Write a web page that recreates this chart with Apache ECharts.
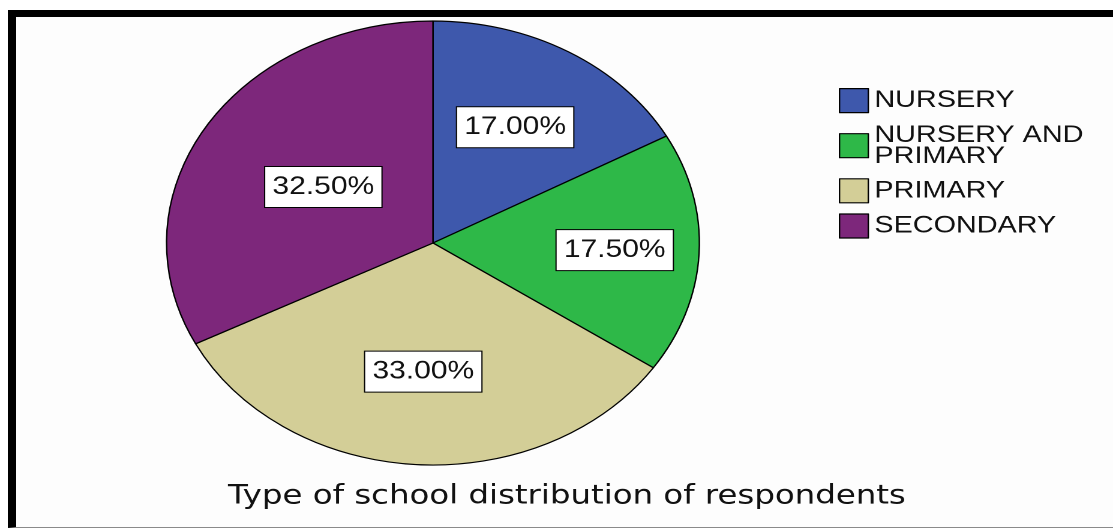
<!DOCTYPE html>
<html><head><meta charset="utf-8">
<script src="https://cdn.jsdelivr.net/npm/echarts@6/dist/echarts.min.js"></script>
<style>
html,body{margin:0;padding:0;background:#fff;overflow:hidden;}
#frame{position:absolute;left:8px;top:10px;width:1105px;height:518px;box-sizing:border-box;border-top:7px solid #000;border-left:8px solid #000;border-bottom:1px solid #8a8a8a;background:#fdfdfd;}
#chart{position:absolute;left:0;top:0;width:927.5px;height:531px;transform:scaleX(1.2);transform-origin:0 0;}
</style></head><body>
<div id="frame"></div><div id="chart"></div>
<script>
// ---- data ----
const categories = ['NURSERY', 'NURSERY AND PRIMARY', 'PRIMARY', 'SECONDARY'];
const shares = [17.0, 17.5, 33.0, 32.5];
const titleText = 'Type of school distribution of respondents';

// ---- style ----
const colors = ['#3E58AC', '#2EB848', '#D3CE97', '#7D277B'];
const labelRadiusFrac = [0.59, 0.665, 0.565, 0.47];
const CX = 360.8, CY = 243, R = 222;

const chart = echarts.init(document.getElementById('chart'), null, {devicePixelRatio: 2});
chart.setOption({
  animation: false,
  color: colors,
  title: {
    text: titleText,
    left: 190, top: 483, padding: 0,
    textStyle: {fontFamily: 'DejaVu Sans', fontSize: 27, fontWeight: 'normal', color: '#111'}
  },
  legend: {
    orient: 'vertical',
    left: 699, top: 88, padding: 0,
    itemWidth: 24, itemHeight: 24, itemGap: 10,
    icon: 'rect',
    itemStyle: {borderColor: '#000', borderWidth: 1.2},
    formatter: n => n.replace(' AND ', ' AND\n'),
    textStyle: {fontFamily: 'Liberation Sans', fontSize: 24, lineHeight: 21, color: '#111'},
    data: categories
  },
  series: [{
    type: 'pie',
    center: [CX, CY],
    radius: [0, R],
    startAngle: 90,
    clockwise: true,
    silent: true,
    itemStyle: {borderColor: '#000', borderWidth: 1.2},
    label: {
      show: true, position: 'inside',
      formatter: p => p.value.toFixed(2) + '%',
      fontFamily: 'Liberation Sans', fontSize: 25, color: '#111',
      backgroundColor: '#fff', borderColor: '#000', borderWidth: 1,
      padding: [8, 6, 7, 6]
    },
    labelLine: {show: false},
    labelLayout: function (p) {
      const f = labelRadiusFrac[p.dataIndex];
      const r = p.labelRect;
      const lx = r.x + r.width / 2, ly = r.y + r.height / 2;
      const k = f / 0.5 - 1;
      return {dx: (lx - CX) * k, dy: (ly - CY) * k};
    },
    data: categories.map((c, i) => ({name: c, value: shares[i]}))
  }]
});
</script></body></html>
